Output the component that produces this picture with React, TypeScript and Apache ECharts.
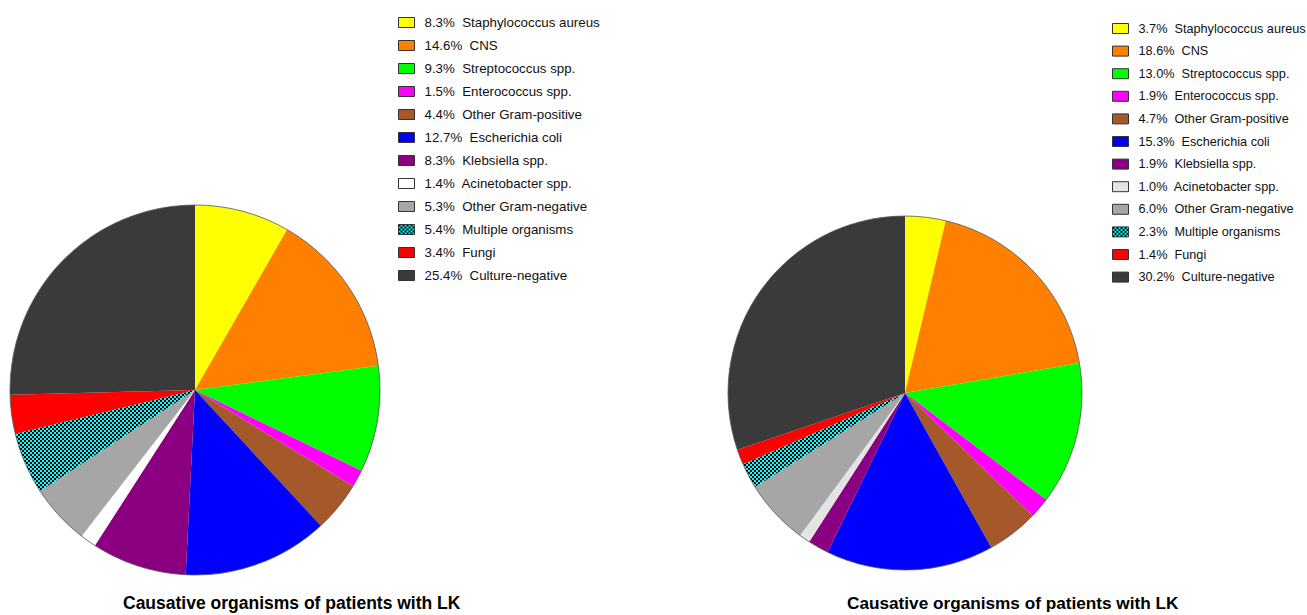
import React, { useEffect, useRef } from "react";
import * as echarts from "echarts";

// Organism groups, in clockwise order from 12 o'clock
const organisms = [
  "Staphylococcus aureus",
  "CNS",
  "Streptococcus spp.",
  "Enterococcus spp.",
  "Other Gram-positive",
  "Escherichia coli",
  "Klebsiella spp.",
  "Acinetobacter spp.",
  "Other Gram-negative",
  "Multiple organisms",
  "Fungi",
  "Culture-negative",
];

// Share of patients (%) in each group
const leftShares = [8.3, 14.6, 9.3, 1.5, 4.4, 12.7, 8.3, 1.4, 5.3, 5.4, 3.4, 25.4];
const rightShares = [3.7, 18.6, 13.0, 1.9, 4.7, 15.3, 1.9, 1.0, 6.0, 2.3, 1.4, 30.2];

const chartTitle = "Causative organisms of patients with LK";

function makeChecker() {
  const c = document.createElement("canvas");
  c.width = 4;
  c.height = 4;
  const ctx = c.getContext("2d")!;
  ctx.fillStyle = "#00ffff";
  ctx.fillRect(0, 0, 4, 4);
  ctx.fillStyle = "#000000";
  ctx.fillRect(0, 0, 2, 2);
  ctx.fillRect(2, 2, 2, 2);
  return c;
}

export default function App() {
  const ref = useRef<HTMLDivElement>(null);

  useEffect(() => {
    if (!ref.current) return;
    const chart = echarts.init(ref.current, null, { renderer: "svg" });
    const checker: any = { image: makeChecker(), repeat: "repeat" };

    const colorsFor = (acinetobacter: string) => [
      "#ffff00",
      "#ff8000",
      "#00ff00",
      "#ff00ff",
      "#a5592b",
      "#0000ff",
      "#8b0080",
      acinetobacter,
      "#a6a6a6",
      checker,
      "#ff0000",
      "#3a3a3a",
    ];
    const leftColors = colorsFor("#ffffff");
    const rightColors = colorsFor("#e4e4e4");

    const label = (v: number, name: string) => `${v.toFixed(1)}%  ${name}`;
    const buildData = (shares: number[], colors: any[]) =>
      organisms.map((name, i) => ({
        name: label(shares[i], name),
        value: shares[i],
        itemStyle: { color: colors[i] },
      }));
    const leftData = buildData(leftShares, leftColors);
    const rightData = buildData(rightShares, rightColors);

    const font = "'Liberation Sans', Arial, sans-serif";

    const pie = (data: any[], center: number[], radius: number) => ({
      type: "pie",
      center,
      radius,
      startAngle: 90,
      clockwise: true,
      silent: true,
      label: { show: false },
      labelLine: { show: false },
      itemStyle: { borderWidth: 0 },
      data,
    });

    // thin rim around each pie
    const outline = (center: number[], radius: number) => ({
      type: "pie",
      center,
      radius,
      silent: true,
      label: { show: false },
      labelLine: { show: false },
      itemStyle: { color: "rgba(0,0,0,0)", borderColor: "#555555", borderWidth: 0.8 },
      data: [{ name: "__outline", value: 1 }],
      legendHoverLink: false,
    });

    const legend = (data: any[], left: number, top: number, fontSize: number, gap: number) => ({
      orient: "vertical",
      left,
      top,
      padding: 0,
      itemWidth: 16,
      itemHeight: 10,
      itemGap: gap,
      selectedMode: false,
      icon: "rect",
      itemStyle: { borderColor: "#333333", borderWidth: 1 },
      textStyle: { fontFamily: font, fontSize, color: "#111111", lineHeight: 13, padding: [0, 0, 0, 5] },
      data: data.map((d) => d.name),
    });

    chart.setOption({
      animation: false,
      backgroundColor: "#ffffff",
      title: [
        {
          text: chartTitle,
          left: 123,
          top: 594,
          padding: 0,
          textStyle: { fontFamily: font, fontSize: 17.5, fontWeight: "bold", color: "#000000" },
        },
        {
          text: chartTitle,
          left: 847,
          top: 594,
          padding: 0,
          textStyle: { fontFamily: font, fontSize: 17.2, fontWeight: "bold", color: "#000000" },
        },
      ],
      legend: [
        legend(leftData, 398, 16, 13.3, 10),
        legend(rightData, 1112, 22, 12.7, 9.6),
      ],
      series: [
        pie(leftData, [195, 390], 185),
        outline([195, 390], 185),
        pie(rightData, [905, 393], 177),
        outline([905, 393], 177),
      ],
    });

    return () => chart.dispose();
  }, []);

  return (
    <div
      ref={ref}
      style={{ position: "fixed", left: 0, top: 0, width: 1307, height: 615, background: "#fff" }}
    />
  );
}
